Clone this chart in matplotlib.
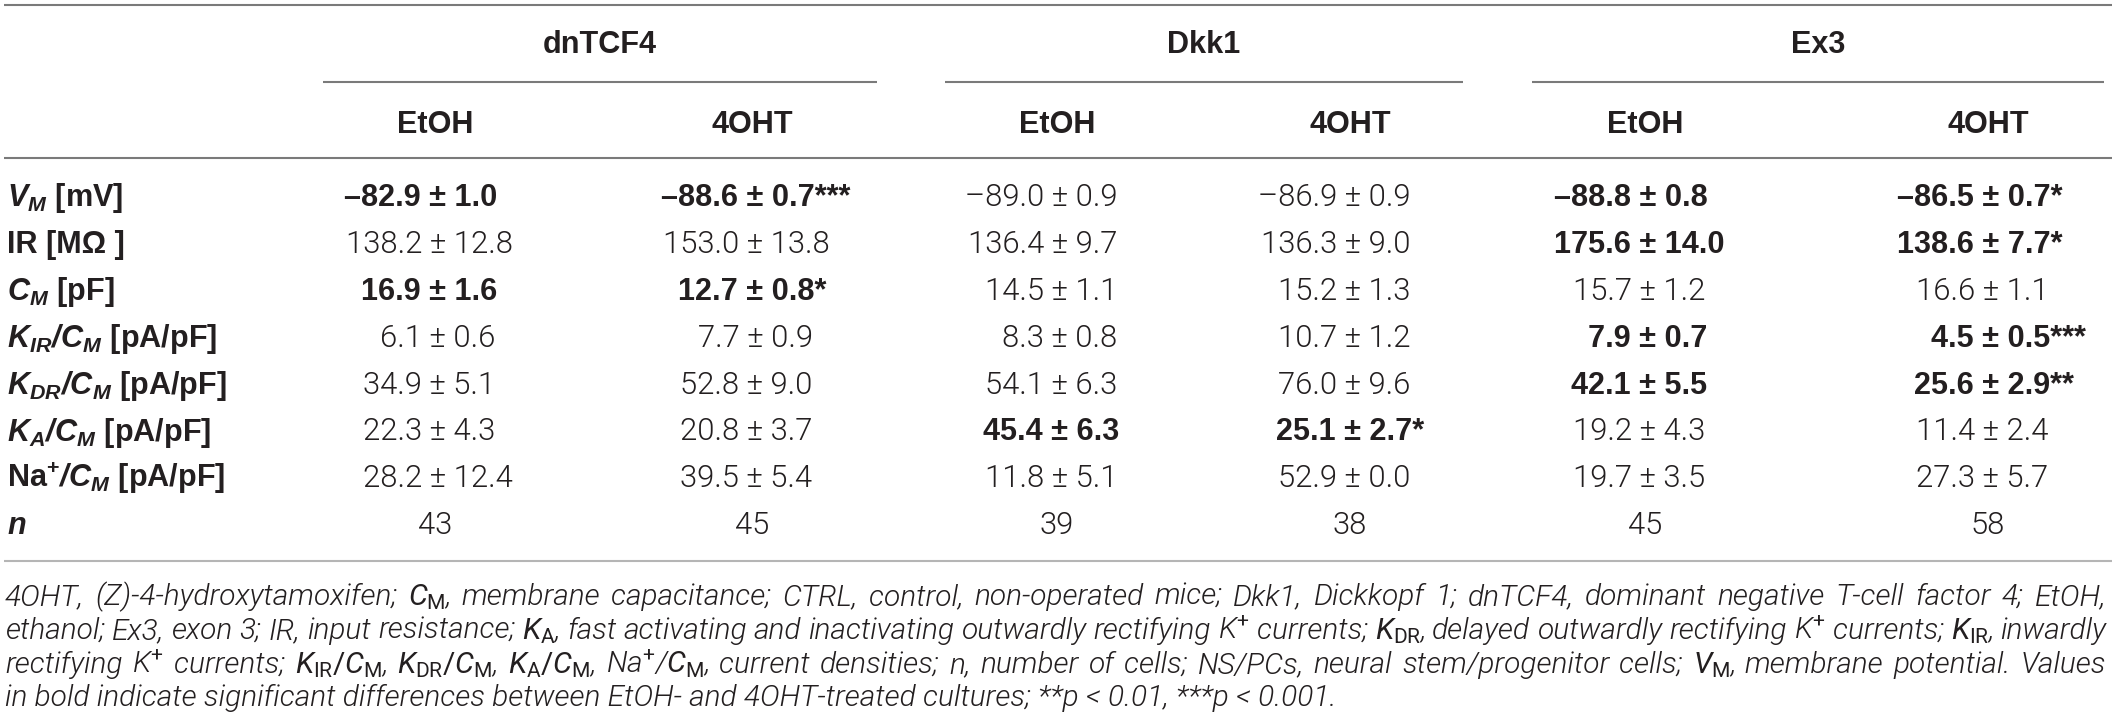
import matplotlib
matplotlib.use('Agg')
import matplotlib.pyplot as plt
from matplotlib import font_manager

FONT = 'Liberation Sans'

# light face for the regular numbers / footnote, if one is installed
LIGHT_FAMILY, LIGHT_WEIGHT = FONT, 'normal'
for fam in ['Roboto', 'Open Sans', 'Inter', 'Lato']:
    if any(f.name == fam and f.weight in (300, 'light') and f.style == 'normal'
           for f in font_manager.fontManager.ttflist):
        LIGHT_FAMILY, LIGHT_WEIGHT = fam, 300
        break

plt.rcParams['font.family'] = [FONT, 'DejaVu Sans']
plt.rcParams['mathtext.fontset'] = 'custom'
plt.rcParams['mathtext.rm'] = LIGHT_FAMILY
plt.rcParams['mathtext.it'] = LIGHT_FAMILY + ':italic'
plt.rcParams['mathtext.bf'] = FONT + ':bold'
plt.rcParams['mathtext.bfit'] = FONT + ':italic:bold'
plt.rcParams['mathtext.sf'] = FONT

# ---------------- data ----------------
groups = ["dnTCF4", "Dkk1", "Ex3"]
treatments = ["EtOH", "4OHT"]
row_labels = [
    r"$\mathbfit{V}_{\mathbfit{M}}$ [mV]",
    "IR [MΩ ]",
    r"$\mathbfit{C}_{\mathbfit{M}}$ [pF]",
    r"$\mathbfit{K}_{\mathbfit{IR}}\mathbfit{/C}_{\mathbfit{M}}$ [pA/pF]",
    r"$\mathbfit{K}_{\mathbfit{DR}}\mathbfit{/C}_{\mathbfit{M}}$ [pA/pF]",
    r"$\mathbfit{K}_{\mathbfit{A}}\mathbfit{/C}_{\mathbfit{M}}$ [pA/pF]",
    r"Na$^{\mathbf{+}}$$\mathbfit{/C}_{\mathbfit{M}}$ [pA/pF]",
]
n_label = "n"

dnTCF4_EtOH_mean = [-82.9, 138.2, 16.9, 6.1, 34.9, 22.3, 28.2]
dnTCF4_EtOH_sem = [1.0, 12.8, 1.6, 0.6, 5.1, 4.3, 12.4]
dnTCF4_EtOH_stars = ["", "", "", "", "", "", ""]
dnTCF4_EtOH_bold = [True, False, True, False, False, False, False]

dnTCF4_4OHT_mean = [-88.6, 153.0, 12.7, 7.7, 52.8, 20.8, 39.5]
dnTCF4_4OHT_sem = [0.7, 13.8, 0.8, 0.9, 9.0, 3.7, 5.4]
dnTCF4_4OHT_stars = ["***", "", "*", "", "", "", ""]
dnTCF4_4OHT_bold = [True, False, True, False, False, False, False]

Dkk1_EtOH_mean = [-89.0, 136.4, 14.5, 8.3, 54.1, 45.4, 11.8]
Dkk1_EtOH_sem = [0.9, 9.7, 1.1, 0.8, 6.3, 6.3, 5.1]
Dkk1_EtOH_stars = ["", "", "", "", "", "", ""]
Dkk1_EtOH_bold = [False, False, False, False, False, True, False]

Dkk1_4OHT_mean = [-86.9, 136.3, 15.2, 10.7, 76.0, 25.1, 52.9]
Dkk1_4OHT_sem = [0.9, 9.0, 1.3, 1.2, 9.6, 2.7, 0.0]
Dkk1_4OHT_stars = ["", "", "", "", "", "*", ""]
Dkk1_4OHT_bold = [False, False, False, False, False, True, False]

Ex3_EtOH_mean = [-88.8, 175.6, 15.7, 7.9, 42.1, 19.2, 19.7]
Ex3_EtOH_sem = [0.8, 14.0, 1.2, 0.7, 5.5, 4.3, 3.5]
Ex3_EtOH_stars = ["", "", "", "", "", "", ""]
Ex3_EtOH_bold = [True, True, False, True, True, False, False]

Ex3_4OHT_mean = [-86.5, 138.6, 16.6, 4.5, 25.6, 11.4, 27.3]
Ex3_4OHT_sem = [0.7, 7.7, 1.1, 0.5, 2.9, 2.4, 5.7]
Ex3_4OHT_stars = ["*", "*", "", "***", "**", "", ""]
Ex3_4OHT_bold = [True, True, False, True, True, False, False]

n_cells = [43, 45, 39, 38, 45, 58]

footnote_lines = [
    r"4OHT, (Z)-4-hydroxytamoxifen; $C_{\mathrm{M}}$, membrane capacitance; CTRL, control, non-operated mice; Dkk1, Dickkopf 1; dnTCF4, dominant negative T-cell factor 4; EtOH,",
    r"ethanol; Ex3, exon 3; IR, input resistance; $K_{\mathrm{A}}$, fast activating and inactivating outwardly rectifying K$^{\mathrm{+}}$ currents; $K_{\mathrm{DR}}$, delayed outwardly rectifying K$^{\mathrm{+}}$ currents; $K_{\mathrm{IR}}$, inwardly",
    r"rectifying K$^{\mathrm{+}}$ currents; $K_{\mathrm{IR}}/C_{\mathrm{M}}$, $K_{\mathrm{DR}}/C_{\mathrm{M}}$, $K_{\mathrm{A}}/C_{\mathrm{M}}$, Na$^{\mathrm{+}}$/$C_{\mathrm{M}}$, current densities; n, number of cells; NS/PCs, neural stem/progenitor cells; $V_{\mathrm{M}}$, membrane potential. Values",
    r"in bold indicate significant differences between EtOH- and 4OHT-treated cultures; **p < 0.01, ***p < 0.001.",
]

columns = [
    (dnTCF4_EtOH_mean, dnTCF4_EtOH_sem, dnTCF4_EtOH_stars, dnTCF4_EtOH_bold),
    (dnTCF4_4OHT_mean, dnTCF4_4OHT_sem, dnTCF4_4OHT_stars, dnTCF4_4OHT_bold),
    (Dkk1_EtOH_mean, Dkk1_EtOH_sem, Dkk1_EtOH_stars, Dkk1_EtOH_bold),
    (Dkk1_4OHT_mean, Dkk1_4OHT_sem, Dkk1_4OHT_stars, Dkk1_4OHT_bold),
    (Ex3_EtOH_mean, Ex3_EtOH_sem, Ex3_EtOH_stars, Ex3_EtOH_bold),
    (Ex3_4OHT_mean, Ex3_4OHT_sem, Ex3_4OHT_stars, Ex3_4OHT_bold),
]

# ---------------- layout ----------------
W, H = 2119, 721
fig = plt.figure(figsize=(W / 100, H / 100), dpi=100)
ax = fig.add_axes([0, 0, 1, 1])
ax.set_xlim(0, W)
ax.set_ylim(H, 0)
ax.axis('off')
renderer = fig.canvas.get_renderer()

TXT = '#231f20'
RULE = '#7a7a7a'

col_hdr_x = [435, 752, 1057, 1350, 1645, 1988]
col_pm_x = [x + 3 for x in col_hdr_x]
group_spans = [(323, 877), (945, 1463), (1532, 2104)]
label_x = 7
row_y0, row_dy = 196, 46.9
cap = 10  # half cap height offset for baseline


def width(s, **kw):
    t = ax.text(0, 0, s, **kw)
    w = t.get_window_extent(renderer).width
    t.remove()
    return w


REG = dict(family=[LIGHT_FAMILY, 'DejaVu Sans'], fontweight=LIGHT_WEIGHT)
BLD = dict(fontweight='bold')
FS_REG = 20 * 149 / width("136.4 \u00b1 9.7", fontsize=20, **REG)
FS_BLD = 20 * 153 / width("\u201382.9 \u00b1 1.0", fontsize=20, **BLD)
FS = FS_BLD

# rules
ax.plot([4, 2112], [5, 5], color=RULE, lw=1.5, solid_capstyle='butt')
for (x0, x1) in group_spans:
    ax.plot([x0, x1], [82, 82], color=RULE, lw=1.5, solid_capstyle='butt')
ax.plot([4, 2112], [158, 158], color=RULE, lw=1.5, solid_capstyle='butt')
ax.plot([4, 2112], [561, 561], color='#b5b5b5', lw=1.5, solid_capstyle='butt')

# group headers
for g, (x0, x1) in zip(groups, group_spans):
    ax.text((x0 + x1) / 2, 43 + cap, g, ha='center', va='baseline', fontsize=FS,
            fontweight='bold', color=TXT)
# treatment headers
for i, x in enumerate(col_hdr_x):
    ax.text(x, 123 + cap, treatments[i % 2], ha='center', va='baseline', fontsize=FS,
            fontweight='bold', color=TXT)

# row labels
for r, lab in enumerate(row_labels):
    ax.text(label_x, row_y0 + r * row_dy + cap, lab, ha='left', va='baseline',
            fontsize=FS, fontweight='bold', color=TXT)
ax.text(label_x, row_y0 + 7 * row_dy + cap, n_label, ha='left', va='baseline',
        fontsize=FS, fontweight='bold', fontstyle='italic', color=TXT)


def fmt(v):
    return f"{v:.1f}".replace('-', '\u2013')


# cells
for c, (means, sems, stars, bolds) in enumerate(columns):
    xpm = col_pm_x[c]
    for r in range(len(means)):
        kw = dict(fontsize=FS_BLD, **BLD) if bolds[r] else dict(fontsize=FS_REG, **REG)
        left = fmt(means[r]) + " \u00b1"
        full = left + " " + fmt(sems[r]) + stars[r]
        wl = width(left, **kw)
        wp = width("\u00b1", **kw)
        x0 = xpm - (wl - wp / 2)
        ax.text(x0, row_y0 + r * row_dy + cap, full, ha='left', va='baseline',
                color=TXT, **kw)
    ax.text(col_hdr_x[c], row_y0 + 7 * row_dy + cap, str(n_cells[c]), ha='center',
            va='baseline', fontsize=FS_REG, color=TXT, **REG)

# footnote (justified)
fn_kw = dict(fontstyle='italic', color=TXT, family=[LIGHT_FAMILY, 'DejaVu Sans'],
             fontweight=LIGHT_WEIGHT)
w_ref = width(footnote_lines[3], fontsize=20, **fn_kw)
FN = 20 * 1330 / w_ref
fn_y = [597, 631, 665, 698]
fx0, fx1 = 5, 2106
for li, line in enumerate(footnote_lines):
    yb = fn_y[li] + 8
    if li == len(footnote_lines) - 1:
        ax.text(fx0, yb, line, ha='left', va='baseline', fontsize=FN, **fn_kw)
        continue
    words = line.split(' ')
    ws = [width(wd, fontsize=FN, **fn_kw) for wd in words]
    gap = (fx1 - fx0 - sum(ws)) / (len(words) - 1)
    x = fx0
    for wd, w in zip(words, ws):
        ax.text(x, yb, wd, ha='left', va='baseline', fontsize=FN, **fn_kw)
        x += w + gap

fig.savefig('out.png', dpi=100)
